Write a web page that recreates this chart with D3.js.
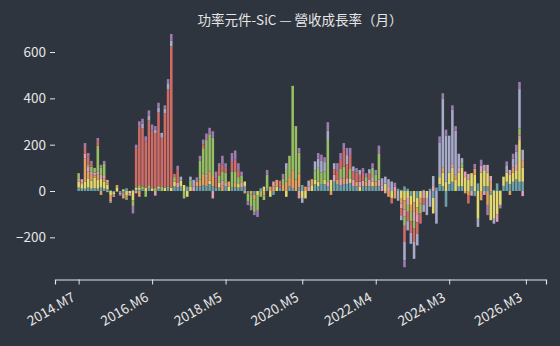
<!DOCTYPE html>
<html>
<head>
<meta charset="utf-8">
<script src="https://cdn.jsdelivr.net/npm/d3@7"></script>
<style>
  body { margin: 0; background: #2f353e; }
  svg { display: block; }
</style>
</head>
<body>
<script>

// monthly categories 2014.M7 .. 2026.M2
var startYear = 2014, startMonth = 7, monthCount = 140
var months = []
for (var i = 0; i < monthCount; i++) {
    var m = startMonth - 1 + i
    months.push((startYear + Math.floor(m / 12)) + '.M' + (m % 12 + 1))
}

var tickIdx = [0, 23, 46, 70, 93, 116, 140]
var tickLabels = ['2014.M7', '2016.M6', '2018.M5', '2020.M5', '2022.M4', '2024.M3', '2026.M3']
var yTicks = [-200, 0, 200, 400, 600]

// growth rate (%) per component stock
var teal = [15,10,10,15,10,12,10,15,10,8, 3,-5,0,-8,-10,12,0,5,5,5, 8,0,10,0,0,10,0,0,10,0,
    20,15,20,0,19,0,0,20,20,25, 20,30,20,15,15,0,20,0,15,15, 15,15,20,-10,0,-15,0,12,0,10,
    0,-17,0,15,0,0,20,10,0,15, 26,0,0,0,30,20,30,30,20,0, 40,30,25,30,30,35,20,20,0,20,
    20,20,20,20,20,0,0,0,0,0, 10,5,20,10,-20,0,-30,0,5,0, 10,-30,15,30,20,-68,30,40,0,20,
    20,0,0,20,-22,33,0,20,20,-16, 5,33,3,22,40,30,40,50,40,40]
var yellow = [25,20,30,40,35,45,40,40,30,20, -20,-10,16,0,7,-18,-10,-40,10,10, 0,15,0,12,0,10,0,15,0,15,
    20,0,25,26,-25,20,0,0,0,0, 0,15,0,0,20,0,0,20,0,0, 15,0,21,0,0,0,-17,0,19,0,
    -25,0,20,0,0,-25,0,0,0,0, -30,-32,0,25,20,20,0,20,0,48, 0,0,0,0,0,20,0,0,20,0,
    0,0,20,0,0,0,32,0,-30,0, 0,-30,-40,-30,-40,-50,-40,-30,0,-30, 0,-67,0,30,60,40,50,60,50,60,
    80,60,50,57,70,-120,80,70,60,-110, -120,-100,-60,40,40,40,40,40,180,60]
var orange = [0,8,100,30,25,10,20,-17,15,10, -15,-5,10,0,-12,-10,0,0,0,-25, 0,0,0,0,0,0,0,0,0,0,
    0,0,0,0,0,0,0,20,30,50, 40,40,45,0,0,25,0,21,0,20, 0,0,-10,0,-15,-20,0,0,-19,0,
    19,20,28,0,30,40,40,80,50,60, 0,19,0,26,0,0,0,0,0,-17, 0,20,0,25,0,0,0,20,0,0,
    20,0,0,20,0,0,0,-25,0,-32, 0,-25,-40,0,-30,-40,-30,-25,0,0, 0,0,0,0,20,0,0,0,20,0,
    0,-10,-20,0,27,0,-40,0,-60,40, 0,0,0,0,0,-17,20,0,0,30]
var pink = [12,13,20,20,15,13,15,15,10,10, -10,-5,-3,-7,-10,0,-10,0,-10,0, 0,0,0,0,-20,0,0,0,0,0,
    0,20,0,0,0,0,20,0,0,0, 10,0,-32,0,0,20,15,0,0,0, 0,20,0,0,0,0,0,0,0,0,
    0,21,0,0,0,0,0,0,0,-32, 0,0,20,0,0,0,0,0,20,0, 30,0,30,0,25,0,30,0,20,25,
    0,30,20,0,30,25,-10,21,0,20, 0,-20,-30,-30,0,-40,-35,0,-30,0, 0,25,0,0,0,0,0,20,0,20,
    0,24,24,-20,0,0,30,-17,33,25, 0,-33,0,0,0,21,0,30,20,-22]
var green = [25,0,0,10,20,20,110,30,55,-5, -6,0,0,0,0,-10,0,-25,5,10, 12,-25,15,0,15,0,20,0,10,0,
    20,0,0,-32,0,25,0,0,80,110, 150,160,165,0,30,40,45,0,70,50, 30,30,0,-35,-50,-55,-65,-25,-20,60,
    0,0,0,0,24,55,92,364,230,90, 0,0,0,0,38,60,50,35,180,0, 0,0,40,50,0,40,0,0,0,0,
    20,0,40,30,110,0,0,0,0,0, 0,0,-40,-30,-40,-30,0,-41,0,0, 0,0,0,0,0,0,0,0,0,0,
    20,0,0,0,0,0,0,0,0,0, 0,0,0,0,0,0,0,0,30,0]
var red = [0,0,30,35,15,0,20,0,0,0, 0,0,0,0,0,0,0,0,165,255, 250,200,280,250,235,320,210,320,420,610,
    14,55,0,0,0,0,0,0,0,15, 0,0,0,40,35,30,20,0,40,50, 30,0,0,0,0,0,0,0,0,0,
    0,0,0,30,0,0,0,0,0,0, 0,0,0,0,0,0,0,0,0,0, 25,40,40,70,60,60,35,40,30,35,
    0,25,0,0,0,0,0,0,-24,0, 0,-30,-70,-40,-50,-60,-50,-45,-30,0, 0,0,0,0,0,0,0,0,0,0,
    0,0,-34,0,0,0,0,0,0,0, 0,0,0,0,0,0,0,0,0,0]
var lavender = [0,0,0,0,0,0,0,0,0,0, 0,0,0,0,0,0,0,0,0,0, 20,0,20,0,15,20,21,20,25,25,
    0,0,17,0,0,17,28,0,0,0, 0,0,0,0,0,0,0,0,0,0, 0,0,0,0,0,0,0,0,0,0,
    0,0,0,0,0,25,0,0,0,0, -21,0,25,0,40,40,50,40,40,0, 25,0,0,0,40,0,21,0,21,0,
    0,19,0,0,0,30,30,30,41,0, -42,-21,-79,-40,-48,-73,-50,0,-30,-74, -68,40,-141,150,300,200,159,230,190,61,
    22,0,0,0,0,-35,0,23,0,0, -21,0,0,0,28,0,40,50,170,48]
var purple = [0,0,17,14,10,0,14,13,10,0, 0,0,0,-5,0,0,0,-32,15,21, 22,21,23,25,15,21,0,15,18,28,
    0,19,0,0,0,0,0,19,22,22, 28,28,28,29,20,37,20,0,39,40, 30,19,0,-16,-18,-14,-30,0,0,21,
    0,0,0,0,20,0,0,0,0,21, 0,0,0,0,0,24,27,21,37,0, 0,30,29,32,31,31,0,19,0,19,
    17,0,20,21,36,0,0,0,0,16, 0,0,-30,0,0,0,0,0,0,0, 0,0,0,26,22,25,0,20,20,0,
    0,0,0,0,20,0,25,0,-44,0, 0,0,-15,0,20,0,21,30,31,0]

var keys = ['teal', 'yellow', 'orange', 'pink', 'green', 'red', 'lavender', 'purple']
var seriesData = { teal: teal, yellow: yellow, orange: orange, pink: pink,
                   green: green, red: red, lavender: lavender, purple: purple }
var colors = { teal: '#6c9fa7', yellow: '#e3d86e', orange: '#e2a05e', pink: '#e0a0b2',
               green: '#97be62', red: '#d06c66', lavender: '#a9a9c8', purple: '#a07cae' }

var width = 560, height = 346
var textColor = '#e6e6e6'
var fontFamily = '"Noto Sans CJK TC", "Noto Sans", sans-serif'

var svg = d3.select('body')
            .append('svg')
                .attr('width', width)
                .attr('height', height)

svg.append('rect')
    .attr('width', width)
    .attr('height', height)
    .attr('fill', '#2f353e')

var x = d3.scaleLinear()
            .domain([-7.4, 146.3])
            .range([55, 546])

var y = d3.scaleLinear()
            .domain([-382, 721])
            .range([279.5, 24])

var rows = months.map(function(m, i) {
    var row = { month: m, idx: i }
    keys.forEach(function(k) { row[k] = seriesData[k][i] })
    return row
})

var stacked = d3.stack()
                .keys(keys)
                .offset(d3.stackOffsetDiverging)(rows)

var barHalf = 0.4

svg.append('g')
    .selectAll('g')
    .data(stacked)
    .enter()
        .append('g')
            .attr('fill', function(s) { return colors[s.key] })
    .selectAll('rect')
    .data(function(s) { return s })
    .enter()
        .append('rect')
            .attr('x', function(d) { return x(d.data.idx - barHalf) })
            .attr('width', function(d) { return x(d.data.idx + barHalf) - x(d.data.idx - barHalf) })
            .attr('y', function(d) { return y(Math.max(d[0], d[1])) })
            .attr('height', function(d) { return Math.abs(y(d[0]) - y(d[1])) })

// axes
var xAxis = d3.axisBottom(x)
                .tickValues(tickIdx)
                .tickFormat(function(d, i) { return tickLabels[i] })
                .tickSize(5)

var gx = svg.append('g')
            .attr('transform', 'translate(0,' + 279.5 + ')')
            .call(xAxis)

gx.select('.domain').attr('stroke', textColor).attr('stroke-width', 1.2)
gx.selectAll('.tick line').attr('stroke', textColor)
gx.selectAll('.tick text')
    .attr('fill', textColor)
    .style('font-family', fontFamily)
    .style('font-size', '13.5px')
    .attr('text-anchor', 'end')
    .attr('x', 0)
    .attr('y', 0)
    .attr('dy', '0.35em')
    .attr('transform', 'translate(-5.5,16.5) rotate(-30)')

var yAxis = d3.axisLeft(y)
                .tickValues(yTicks)
                .tickSize(5)
                .tickPadding(4)

var gy = svg.append('g')
            .attr('transform', 'translate(55,0)')
            .call(yAxis)

gy.select('.domain').remove()
gy.selectAll('.tick line').attr('stroke', textColor)
gy.selectAll('.tick text')
    .attr('fill', textColor)
    .style('font-family', fontFamily)
    .style('font-size', '13.5px')

svg.append('text')
    .attr('x', 300)
    .attr('y', 25)
    .attr('text-anchor', 'middle')
    .attr('fill', textColor)
    .style('font-family', fontFamily)
    .style('font-size', '13.5px')
    .text('功率元件-SiC — 營收成長率（月）')

</script>
</body>
</html>
